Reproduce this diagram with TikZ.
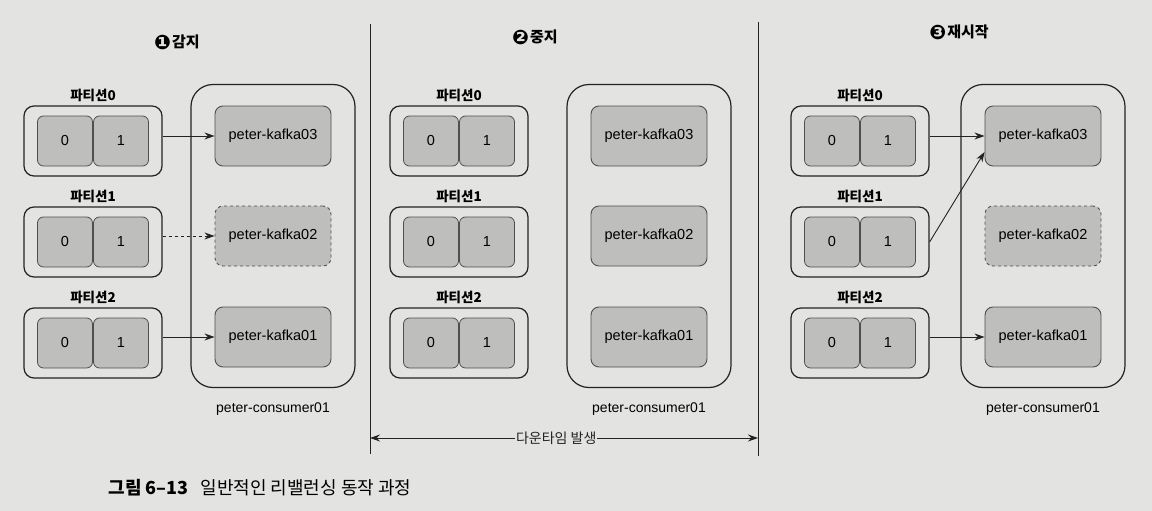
\documentclass[tikz,border=0pt]{standalone}
\usepackage{fontspec}
\setmainfont{Liberation Sans}
\newfontfamily\kr{Noto Sans CJK KR}
\newfontfamily\dingfont{DejaVu Sans}
\usetikzlibrary{positioning,arrows.meta}
\definecolor{paper}{RGB}{227,228,225}
\definecolor{cellgray}{RGB}{190,191,188}
\definecolor{ink}{RGB}{35,35,35}
\newcommand{\sz}[1]{\fontsize{#1}{#1}\selectfont}
\newcommand{\num}[1]{\raisebox{-1.5pt}{\dingfont\sz{20}#1}\hspace{1pt}}
\tikzset{
  partbox/.style={draw=ink,line width=1.2pt,rounded corners=10pt,minimum width=138pt,minimum height=70pt},
  cellbox/.style={draw=ink!80,line width=0.8pt,fill=cellgray,rounded corners=6pt,minimum width=55pt,minimum height=50pt,font=\sz{14.5}},
  kafkabox/.style={draw=ink!80,line width=0.9pt,fill=cellgray,rounded corners=8pt,minimum width=116pt,minimum height=60pt,font=\sz{14.5}},
  consbox/.style={draw=ink,line width=1.2pt,rounded corners=22pt,minimum width=164pt,minimum height=303pt},
  partlbl/.style={font=\kr\bfseries\sz{13.5},inner sep=0pt},
  steplbl/.style={font=\kr\bfseries\sz{15}},
  flow/.style={-{Stealth[length=10pt,width=7pt]},line width=0.9pt,draw=ink},
}
\newcommand{\drawpart}[4]{
	\node[partbox] (#1) at (#2,#3) {};
	\node[cellbox] (#1a) at ([xshift=-28pt]#1.center) {0};
	\node[cellbox] (#1b) at ([xshift=28pt]#1.center) {1};
	\node[partlbl,above=3pt of #1] (#1l) {#4};
}
\newcommand{\drawpanel}[4]{
	\drawpart{#1p0}{#2}{141}{파티션0}
	\drawpart{#1p1}{#2}{242}{파티션1}
	\drawpart{#1p2}{#2}{343}{파티션2}
	\node[consbox] (#1c) at (#3,236) {};
	\node[font=\sz{14}] (#1cl) at (#3,409) {peter-consumer01};
	\node[kafkabox] (#1k3) at (#3,136) {peter-kafka03};
	\node[kafkabox,#4] (#1k2) at (#3,236) {peter-kafka02};
	\node[kafkabox] (#1k1) at (#3,337) {peter-kafka01};
}
\begin{document}
\begin{tikzpicture}[x=1pt,y=-1pt]
	\useasboundingbox (0,0) rectangle (1152,511);
	\fill[paper] (0,0) rectangle (1152,511);

	% 1: detect
	\node[steplbl] (t1) at (177,42) {\num{❶}감지};
	\drawpanel{a}{93}{273}{dashed}
	\draw[flow] (ap0.east |- ak3.west) -- (ak3.west);
	\draw[flow,dashed] (ap1.east |- ak2.west) -- (ak2.west);
	\draw[flow] (ap2.east |- ak1.west) -- (ak1.west);

	% 2: stop
	\node[steplbl] (t2) at (535,37) {\num{❷}중지};
	\drawpanel{b}{459}{649}{}

	% 3: restart
	\node[steplbl] (t3) at (959,32) {\num{❸}재시작};
	\drawpanel{c}{860}{1043}{dashed}
	\draw[flow] (cp0.east |- ck3.west) -- (ck3.west);
	\draw[flow] (cp1.east) -- ([yshift=-16pt]ck3.west);
	\draw[flow] (cp2.east |- ck1.west) -- (ck1.west);

	% dividers and downtime
	\coordinate (d1t) at (370,24);
	\coordinate (d1b) at (370,454);
	\coordinate (d2t) at (758,22);
	\coordinate (d2b) at (758,456);
	\draw[ink,line width=1pt] (d1t) -- (d1b);
	\draw[ink,line width=1pt] (d2t) -- (d2b);
	\coordinate (dl) at (d1t |- 0,438);
	\coordinate (dr) at (d2t |- 0,438);
	\draw[ink,line width=0.9pt,{Stealth[length=10pt,width=7pt]}-{Stealth[length=10pt,width=7pt]}] (dl) -- node[pos=0.48,fill=paper,inner sep=1pt,font=\kr\sz{14}] (down) {다운타임 발생} (dr);

	\node[anchor=west,font=\kr\sz{18}] (cap) at (105,488) {\textbf{그림 6–13}\hspace{12pt}일반적인 리밸런싱 동작 과정};
\end{tikzpicture}
\end{document}
